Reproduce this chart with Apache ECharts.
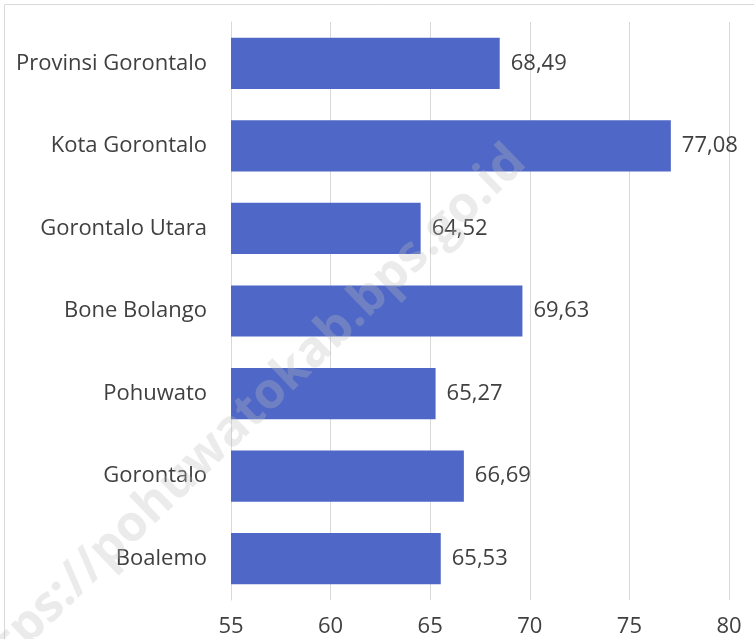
<!DOCTYPE html>
<html>
<head>
<meta charset="utf-8">
<style>
  html, body { margin: 0; padding: 0; background: #fff; }
  #chart { width: 754px; height: 639px; }
</style>
<script src="https://cdn.jsdelivr.net/npm/echarts@6/dist/echarts.min.js"></script>
</head>
<body>
<div id="chart"></div>
<script>
// kabupaten/kota, dari bawah ke atas
const categories = ['Boalemo', 'Gorontalo', 'Pohuwato', 'Bone Bolango', 'Gorontalo Utara', 'Kota Gorontalo', 'Provinsi Gorontalo'];
const values = [65.53, 66.69, 65.27, 69.63, 64.52, 77.08, 68.49];
const xTicks = [55, 60, 65, 70, 75, 80];

const font = '"Open Sans", "Noto Sans", sans-serif';
let myChart = echarts.init(document.getElementById('chart'));
myChart.setOption({
  animation: false,
  backgroundColor: '#fff',
  grid: { left: 231, right: 25, top: 22, bottom: 39, containLabel: false },
  xAxis: {
    type: 'value',
    min: xTicks[0],
    max: xTicks[xTicks.length - 1],
    interval: 5,
    axisLine: { show: false },
    axisTick: { show: false },
    axisLabel: { color: '#404040', fontSize: 22, fontFamily: font, margin: 16 },
    splitLine: { lineStyle: { color: '#d9d9d9', width: 1 } }
  },
  yAxis: {
    type: 'category',
    data: categories,
    axisLine: { lineStyle: { color: '#d9d9d9' } },
    axisTick: { show: false },
    axisLabel: { color: '#404040', fontSize: 22, fontFamily: font, margin: 24 }
  },
  series: [{
    type: 'bar',
    data: values,
    barCategoryGap: '38%',
    itemStyle: { color: '#4f67c6' },
    label: {
      show: true,
      position: 'right',
      distance: 11,
      color: '#404040',
      fontSize: 22,
      fontFamily: font,
      formatter: p => p.value.toFixed(2).replace('.', ',')
    }
  }],
  graphic: [
    {
      type: 'rect',
      shape: { x: 4.5, y: 4.5, width: 800, height: 700 },
      style: { fill: 'none', stroke: '#d9d9d9', lineWidth: 1 },
      silent: true
    },
    {
      type: 'text',
      x: 240,
      y: 422,
      rotation: Math.PI / 4.1,
      z: 100,
      silent: true,
      style: {
        text: 'https://pohuwatokab.bps.go.id',
        font: 'bold 50px ' + font,
        fill: 'rgba(190,190,190,0.3)',
        align: 'center',
        verticalAlign: 'middle'
      }
    }
  ]
});
window.onresize = function () { myChart.resize(); };
</script>
</body>
</html>
